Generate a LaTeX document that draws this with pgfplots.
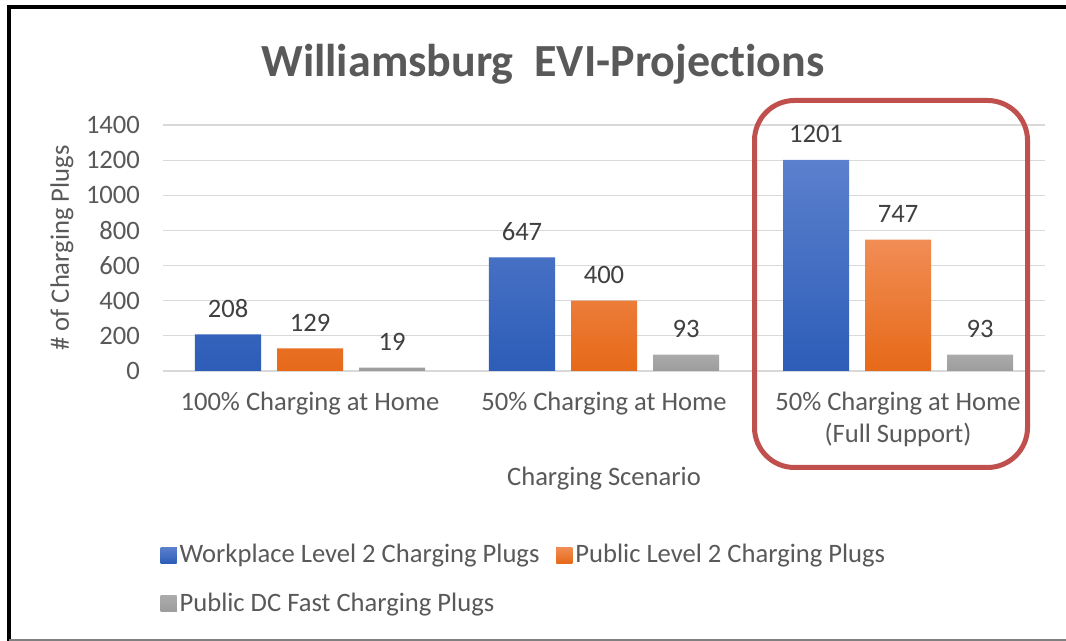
\documentclass[border=0pt]{standalone}
\usepackage{pgfplots}
\pgfplotsset{compat=1.18}
\usepackage{fontspec}
\setmainfont{Carlito}[Ligatures={NoCommon}]
\definecolor{txt}{HTML}{595959}
\definecolor{lbl}{HTML}{404040}
\definecolor{gridc}{HTML}{D9D9D9}
\definecolor{blueT}{HTML}{5B80CD}
\definecolor{blueB}{HTML}{2D5DB8}
\definecolor{orT}{HTML}{F18D55}
\definecolor{orB}{HTML}{E66918}
\definecolor{grT}{HTML}{ABABAB}
\definecolor{grB}{HTML}{9C9C9C}
\definecolor{redbox}{HTML}{C0504D}
\begin{document}
\begin{tikzpicture}
\path[use as bounding box] (0,0) rectangle (533pt,320.5pt);
\fill[white] (0,0) rectangle (533pt,320.5pt);
\begin{axis}[
  at={(81.5pt,135pt)}, anchor=south west,
  scale only axis, width=441pt, height=123pt,
  xmin=-0.5, xmax=2.5, ymin=0, ymax=1400,
  ytick={0,200,...,1400},
  xtick={0,1,2},
  xticklabels={{100\% Charging at Home},{50\% Charging at Home},{50\% Charging at Home\\(Full Support)}},
  axis line style={draw=none},
  major tick length=0pt,
  ymajorgrids, grid style={gridc, line width=0.6pt},
  ybar=8pt, bar width=33pt,
  /pgf/number format/assume math mode=true,
  /pgf/number format/1000 sep={},
  tick label style={font=\fontsize{13.3}{16}\selectfont, text=txt},
  yticklabel style={xshift=-8pt},
  xticklabel style={align=center, yshift=-7pt},
  xlabel={Charging Scenario},
  ylabel={\# of Charging Plugs},
  every axis x label/.style={at={(axis description cs:0.5,-0.4675)}, anchor=base,
    font=\fontsize{13.3}{16}\selectfont, text=txt},
  every axis y label/.style={at={(axis description cs:-0.1145,0.5)}, anchor=center, rotate=90,
    font=\fontsize{13.3}{16}\selectfont, text=txt},
  nodes near coords,
  nodes near coords style={font=\fontsize{13.3}{16}\selectfont, text=lbl, yshift=5pt},
  legend columns=2,
  legend cell align=left,
  legend style={at={(axis description cs:-0.01,-0.675)}, anchor=north west, draw=none, fill=none,
    font=\fontsize{13.3}{16}\selectfont, text=txt,
    /tikz/every even column/.append style={column sep=7pt},
    row sep=10.5pt, nodes={inner sep=1.5pt}},
  clip=false,
]
\addplot[draw=none, top color=blueT, bottom color=blueB,
  legend image code/.code={\fill[blueB!90!blueT] (0pt,-4pt) rectangle (8pt,4pt);}]
  coordinates {(0,208) (1,647) (2,1201)};
\addlegendentry{Workplace Level 2 Charging Plugs}
\addplot[draw=none, top color=orT, bottom color=orB,
  legend image code/.code={\fill[orB!80!orT] (0pt,-4pt) rectangle (8pt,4pt);}]
  coordinates {(0,129) (1,400) (2,747)};
\addlegendentry{Public Level 2 Charging Plugs}
\addplot[draw=none, top color=grT, bottom color=grB,
  legend image code/.code={\fill[grB!60!grT] (0pt,-4pt) rectangle (8pt,4pt);}]
  coordinates {(0,19) (1,93) (2,93)};
\addlegendentry{Public DC Fast Charging Plugs}
\end{axis}
\node[anchor=base, font=\bfseries\fontsize{23}{27}\selectfont, text=txt] at (271.5pt,282pt) {Williamsburg\ \ EVI-Projections};
\draw[redbox, line width=2.5pt, rounded corners=20pt] (377.25pt,86.75pt) rectangle (513.75pt,270.25pt);
\draw[black, line width=2pt] (4.5pt,0pt) -- (4.5pt,317.75pt);
\draw[black, line width=2pt] (3.5pt,316.75pt) -- (533pt,316.75pt);
\draw[gray, line width=0.8pt] (4.5pt,0.6pt) -- (533pt,0.6pt);
\end{tikzpicture}
\end{document}
